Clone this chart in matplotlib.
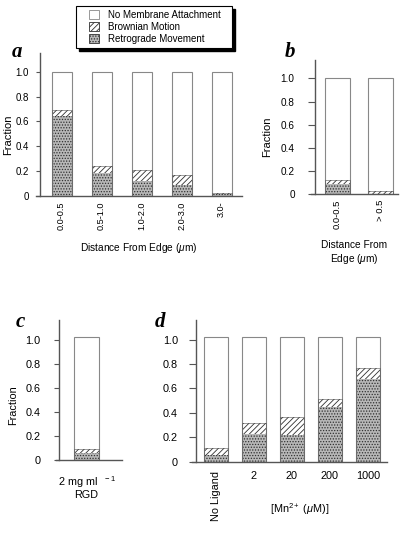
import matplotlib
matplotlib.use("Agg")
import matplotlib.pyplot as plt
from matplotlib.patches import Patch, Rectangle
import numpy as np

plt.rcParams['font.family'] = ['Liberation Sans', 'DejaVu Sans']
plt.rcParams['hatch.linewidth'] = 0.6
plt.rcParams['mathtext.fontset'] = 'custom'
plt.rcParams['mathtext.rm'] = 'Liberation Sans'
plt.rcParams['mathtext.it'] = 'Liberation Sans:italic'

# dati
a_cat = ['0.0-0.5', '0.5-1.0', '1.0-2.0', '2.0-3.0', '3.0-']
a_retro = [0.64, 0.18, 0.12, 0.09, 0.015]
a_brown = [0.05, 0.06, 0.09, 0.08, 0.01]
a_tot = [1.0, 1.0, 1.0, 1.0, 1.0]

b_cat = ['0.0-0.5', '> 0.5']
b_retro = [0.085, 0.0]
b_brown = [0.035, 0.03]
b_tot = [1.0, 1.0]

c_cat = ['2 mg ml$^{\\ \\ \\ -1}$\nRGD']
c_retro = [0.06]
c_brown = [0.035]
c_tot = [1.03]

d_cat = ['No Ligand', '2', '20', '200', '1000']
d_retro = [0.055, 0.23, 0.22, 0.45, 0.68]
d_brown = [0.055, 0.09, 0.15, 0.06, 0.09]
d_tot = [1.02, 1.02, 1.02, 1.02, 1.02]

spine_col = '#555555'
bar_edge = '#888888'
stip_face = '#b8b8b8'


def pannello(ax, cat, retro, brown, tot, w, xlim, spine_x, top, fs, tlen, tpad):
    x = np.arange(len(cat))
    retro = np.array(retro)
    brown = np.array(brown)
    ax.bar(x, retro, w, color=stip_face, edgecolor='#303030', hatch='......', linewidth=0)
    ax.bar(x, brown, w, bottom=retro, color='white', edgecolor='#303030', hatch='//////', linewidth=0)
    ax.bar(x, tot, w, color='none', edgecolor=bar_edge, linewidth=0.8)
    # linea di separazione tra i segmenti
    ax.bar(x, retro + brown, w, color='none', edgecolor='#555555', linewidth=0.4)
    ax.set_xlim(xlim)
    ax.set_ylim(0, top)
    ax.spines['top'].set_visible(False)
    ax.spines['right'].set_visible(False)
    ax.spines['left'].set_position(('data', spine_x))
    for s in ['left', 'bottom']:
        ax.spines[s].set_color(spine_col)
        ax.spines[s].set_linewidth(1.0)
    ax.set_yticks([0, 0.2, 0.4, 0.6, 0.8, 1.0])
    ax.set_yticklabels(['0', '0.2', '0.4', '0.6', '0.8', '1.0'], fontsize=fs)
    ax.tick_params(axis='y', direction='out', length=tlen, width=0.8, color=spine_col, pad=tpad)
    ax.tick_params(axis='x', length=0, pad=4)
    ax.set_xticks(x)


fig = plt.figure(figsize=(4.12, 5.35), dpi=100)

ax_a = fig.add_axes([36/412, 1-195.7/535, 206/412, 142.4/535])
pannello(ax_a, a_cat, a_retro, a_brown, a_tot, 0.5, (-0.64, 4.51), -0.54, 1.15, 7, 3, 5)
ax_a.set_xticklabels(a_cat, rotation=90, fontsize=6.6)
ax_a.set_xlabel('Distance From Edge ($\\mathit{\\mu}$m)', fontsize=7.3, labelpad=8)
ax_a.set_ylabel('Fraction', fontsize=8)
ax_a.yaxis.set_label_coords(-0.112, 0.43)

ax_b = fig.add_axes([311/412, 1-194/535, 87/412, 134/535])
pannello(ax_b, b_cat, b_retro, b_brown, b_tot, 0.58, (-0.61, 1.40), -0.52, 1.16, 7.2, 5, 9.5)
ax_b.set_xticklabels(b_cat, rotation=90, fontsize=6.8)
ax_b.set_xlabel('Distance From\nEdge ($\\mathit{\\mu}$m)', fontsize=7.3, labelpad=8)
ax_b.set_ylabel('Fraction', fontsize=8)
ax_b.yaxis.set_label_coords(-0.45, 0.43)

ax_c = fig.add_axes([56/412, 1-460/535, 65.7/412, 140/535])
pannello(ax_c, c_cat, c_retro, c_brown, c_tot, 0.6, (-0.73, 0.84), -0.65, 1.17, 7.8, 3.5, 10)
ax_c.set_xticklabels(c_cat, fontsize=7.8, linespacing=1.1)
ax_c.tick_params(axis='x', pad=10)
ax_c.set_ylabel('Fraction', fontsize=7.8)
ax_c.yaxis.set_label_coords(-0.57, 0.39)

ax_d = fig.add_axes([192/412, 1-461.7/535, 194.7/412, 141.7/535])
pannello(ax_d, d_cat, d_retro, d_brown, d_tot, 0.62, (-0.625, 4.49), -0.52, 1.16, 7.8, 5, 8)
ax_d.set_xticklabels(d_cat, fontsize=7.8)
etich = ax_d.get_xticklabels()
etich[0].set_rotation(90)
ax_d.tick_params(axis='x', pad=7)
ax_d.set_xlabel('[Mn$^{2+}$ ($\\mathit{\\mu}$M)]', fontsize=7.8)
ax_d.xaxis.set_label_coords(0.555, -0.28)

# lettere dei pannelli
for lett, xx, yy in [('a', 17, 52), ('b', 290, 52), ('c', 20, 322), ('d', 160, 322)]:
    fig.text(xx/412, 1-yy/535, lett, fontsize=15, fontweight='bold', fontstyle='italic',
             family='Liberation Serif', ha='center', va='center')

# riquadro della legenda con ombra
x0, y0, x1, y1 = 76/412, 1-48.3/535, 231.7/412, 1-5.7/535
fig.patches.append(Rectangle((x0 + 3/412, y0 - 3/535), x1 - x0, y1 - y0, transform=fig.transFigure,
                             facecolor='black', edgecolor='black', zorder=1))
fig.patches.append(Rectangle((x0, y0), x1 - x0, y1 - y0, transform=fig.transFigure,
                             facecolor='white', edgecolor='black', linewidth=0.8, zorder=2))

maniglie = [Patch(facecolor='white', edgecolor=bar_edge, linewidth=0.6),
            Patch(facecolor='white', edgecolor='#303030', hatch='//////', linewidth=0.6),
            Patch(facecolor=stip_face, edgecolor='#303030', hatch='......', linewidth=0.6)]
nomi = ['No Membrane Attachment', 'Brownian Motion', 'Retrograde Movement']
leg = fig.legend(maniglie, nomi, loc='center left', bbox_to_anchor=(89/412, (y0 + y1)/2),
                 borderaxespad=0, fontsize=7, handlelength=1.0, handleheight=1.0,
                 handletextpad=1.0, labelspacing=0.2, borderpad=0, frameon=False)

fig.savefig('out.png', dpi=100)
